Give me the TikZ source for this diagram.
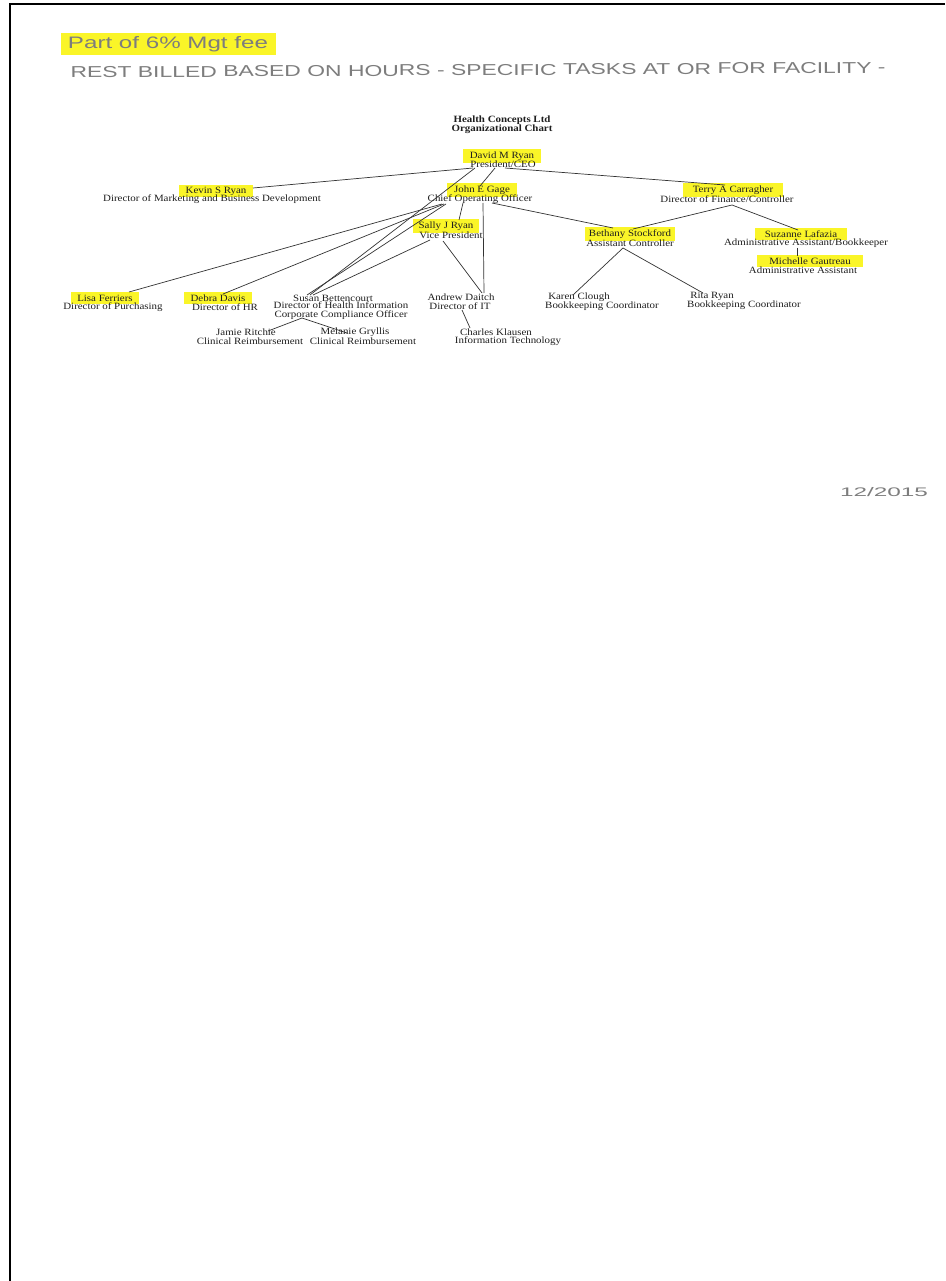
\documentclass[tikz,border=0pt]{standalone}
\usepackage{fontspec}
\setmainfont{Liberation Serif}
\setsansfont{Liberation Sans}
\usetikzlibrary{calc}
\definecolor{hlyellow}{RGB}{250,245,40}
\definecolor{inkgray}{RGB}{125,125,125}
\begin{document}
\begin{tikzpicture}[x=1pt,y=-1pt,
  txt/.style={font=\fontsize{10.9}{10.5}\selectfont, inner sep=0pt, yscale=0.88, text=black!88, align=center},
  hname/.style={txt, fill=hlyellow, inner xsep=7pt, inner ysep=2.6pt},
  ttl/.style={txt, font=\fontsize{10.9}{10.5}\selectfont\bfseries},
  hand/.style={inner sep=0pt, text=inkgray},
  link/.style={draw=black!80, line width=0.7pt},
  frame/.style={draw=black, line width=2pt}]
\useasboundingbox (0,0) rectangle (945,1281);
\fill[white] (0,0) rectangle (945,1281);
% page frame (top and left edges only)
\draw[frame] (945,4.5) -- (10,4.5) -- (10,1281);

% handwritten notes
\node[hand, fill=hlyellow, minimum width=215pt, minimum height=22pt] (note1) at (168,44) {\resizebox{200pt}{12pt}{\sffamily Part of 6\% Mgt fee}};
\node[hand, rotate=0.35] (note2) at (478,70) {\resizebox{815pt}{11pt}{\sffamily REST BILLED BASED ON HOURS - SPECIFIC TASKS AT OR FOR FACILITY -}};
\node[hand] (date) at (884,492) {\resizebox{88pt}{9pt}{\sffamily 12/2015}};

% title
\node[ttl] (title) at (502,125) {Health Concepts Ltd\\Organizational Chart};

% people
\node[hname] (david) at (502,156) {David M Ryan};
\node[txt] (davidT) at (503,164) {President/CEO};

\node[hname] (kevin) at (216,191) {Kevin S Ryan};
\node[txt] (kevinT) at (212,199) {Director of Marketing and Business Development};

\node[hname] (john) at (482,190) {John E Gage};
\node[txt] (johnT) at (480,199) {Chief Operating Officer};

\node[hname, inner xsep=10pt] (terry) at (733,190) {Terry A Carragher};
\node[txt] (terryT) at (727,199) {Director of Finance/Controller};

\node[hname, inner xsep=6pt] (sally) at (446,226) {Sally J Ryan};
\node[txt] (sallyT) at (451,235) {Vice President};

\node[hname, inner xsep=4pt] (bethany) at (630,234) {Bethany Stockford};
\node[txt] (bethanyT) at (630,243) {Assistant Controller};

\node[hname, inner xsep=10pt] (suzanne) at (801,234) {Suzanne Lafazia};
\node[txt] (suzanneT) at (806,243) {Administrative Assistant/Bookkeeper};

\node[hname, inner xsep=12pt] (michelle) at (810,261) {Michelle Gautreau};
\node[txt] (michelleT) at (803,270) {Administrative Assistant};

\node[hname, inner xsep=6pt] (lisa) at (105,298) {Lisa Ferriers};
\node[txt] (lisaT) at (113,307) {Director of Purchasing};

\node[hname, inner xsep=7pt] (debra) at (218,298) {Debra Davis};
\node[txt] (debraT) at (225,307) {Director of HR};

\node[txt] (susan) at (333,298) {Susan Bettencourt};
\node[txt] (susanT) at (341,311) {Director of Health Information\\Corporate Compliance Officer};

\node[txt] (andrew) at (461,297) {Andrew Daitch};
\node[txt] (andrewT) at (460,306) {Director of IT};

\node[txt] (karen) at (579,297) {Karen Clough};
\node[txt] (karenT) at (602,306) {Bookkeeping Coordinator};

\node[txt] (rita) at (712,296) {Rita Ryan};
\node[txt] (ritaT) at (744,305) {Bookkeeping Coordinator};

\node[txt] (charles) at (496,332) {Charles Klausen};
\node[txt] (charlesT) at (508,341) {Information Technology};

\node[txt] (jamie) at (246,332) {Jamie Ritchie};
\node[txt] (jamieT) at (250,341) {Clinical Reimbursement};

\node[txt] (melanie) at (355,332) {Melanie Gryllis};
\node[txt] (melanieT) at (363,341) {Clinical Reimbursement};

% connectors
\draw[link] ($(davidT)+(-30,4)$) -- ($(kevin)+(37,-3)$);
\draw[link] ($(davidT)+(2,4)$) -- ($(terry)+(-8,-5)$);
\draw[link] ($(davidT)+(-28,4)$) -- ($(susan)+(-23,-3)$);
\draw[link] ($(davidT)+(-8,4)$) -- ($(john)+(-2,-4)$);

\draw[link] ($(johnT)+(-38,5)$) -- ($(lisa)+(24,-6)$);
\draw[link] ($(johnT)+(-36,5)$) -- ($(debra)+(5,-4)$);
\draw[link] ($(johnT)+(-34,5)$) -- ($(susan)+(-26,-3)$);
\draw[link] ($(sallyT)+(-21,5)$) -- ($(susan)+(-20,-3)$);
\draw[link] ($(johnT)+(-17,4)$) -- ($(sally)+(13,-6)$);
\draw[link] ($(johnT)+(3,4)$) -- ($(andrew)+(23,-4)$);
\draw[link] ($(sallyT)+(-8,6)$) -- ($(andrew)+(21,-4)$);
\draw[link] ($(johnT)+(12,4)$) -- ($(bethany)+(-17,-6)$);

\draw[link] ($(terryT)+(5,6)$) -- ($(bethany)+(3,-5)$);
\draw[link] ($(terryT)+(5,6)$) -- ($(suzanne)+(-3,-4)$);
\draw[link] ($(suzanneT)+(-9,5)$) -- ($(michelle)+(-13,-5)$);
\draw[link] ($(bethanyT)+(-7,5)$) -- ($(karen)+(-6,-2)$);
\draw[link] ($(bethanyT)+(-7,5)$) -- ($(rita)+(-9,-3)$);
\draw[link] ($(andrewT)+(2,4)$) -- ($(charles)+(-26,-4)$);
\draw[link] ($(susanT)+(-39,7)$) -- ($(jamie)+(22,-1)$);
\draw[link] ($(susanT)+(-39,7)$) -- ($(melanie)+(-8,1)$);
\end{tikzpicture}
\end{document}
